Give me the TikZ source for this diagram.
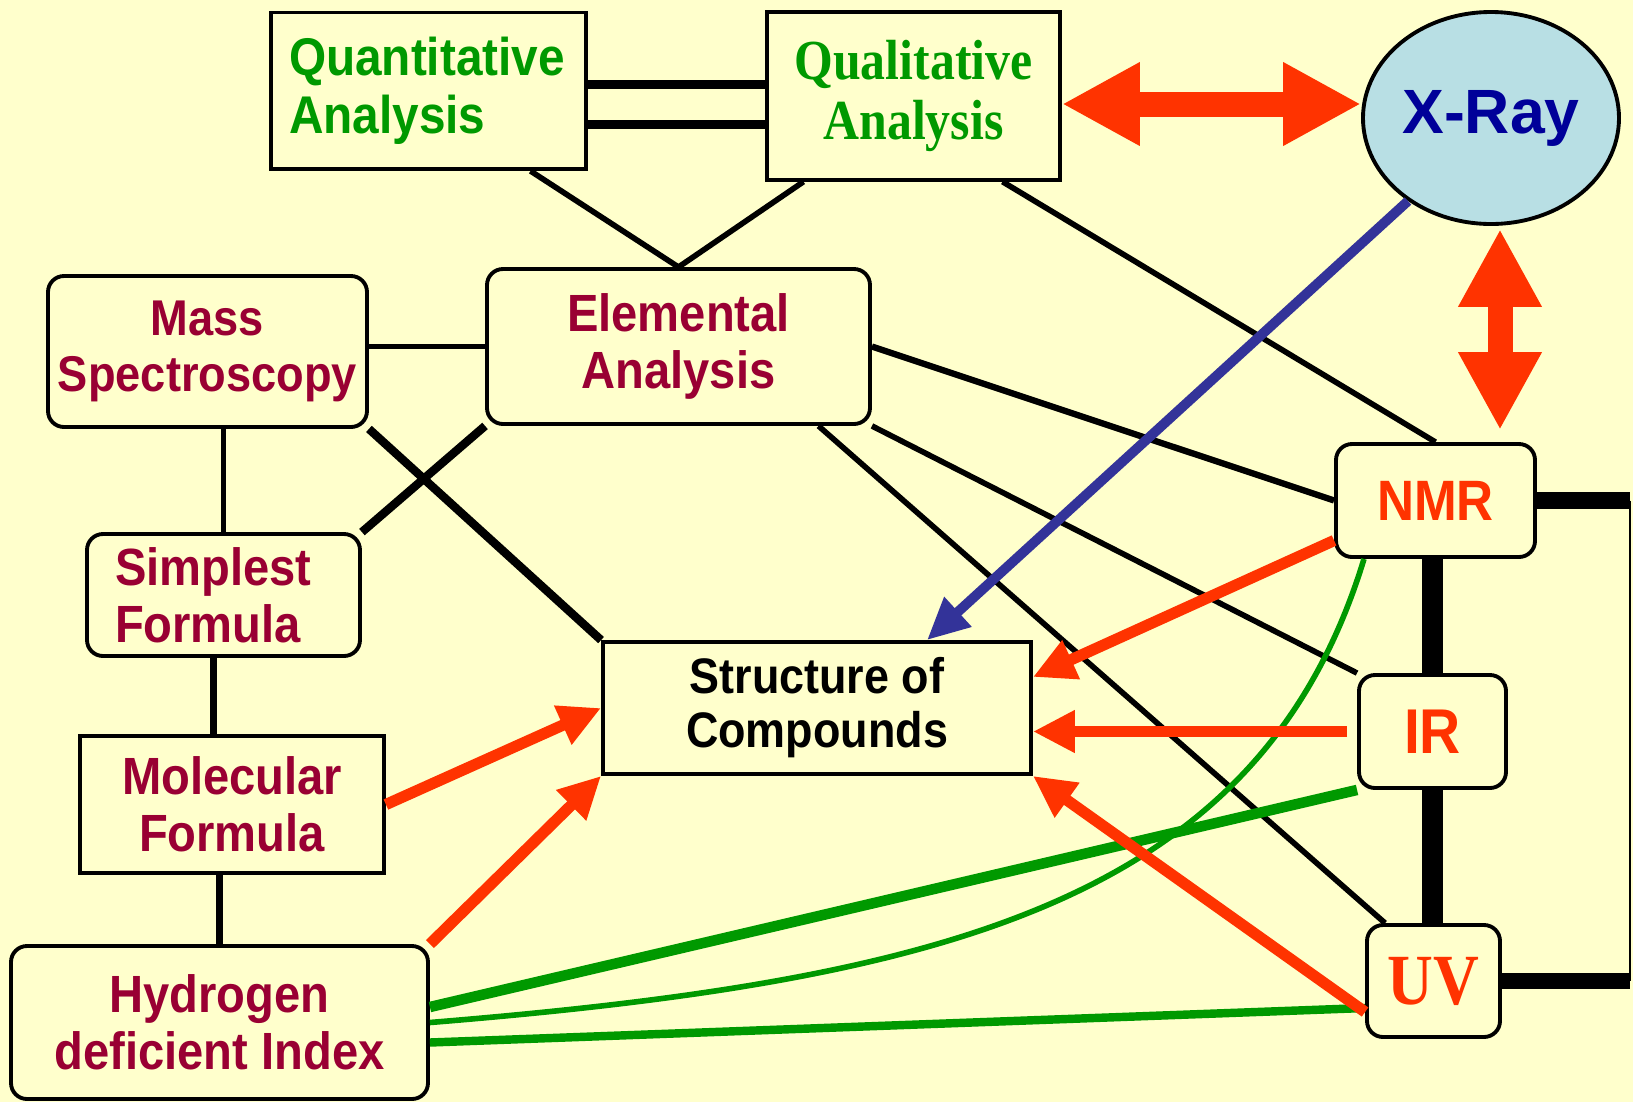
\documentclass[tikz,border=0pt]{standalone}
\usepackage{fontspec}
\setmainfont{Liberation Sans}[FakeStretch=0.9]
\newfontfamily\timesbf{Liberation Serif}[FakeStretch=0.88]
\newfontfamily\widesans{Liberation Sans}
\usetikzlibrary{arrows.meta, shapes.geometric, positioning, calc}

\definecolor{paper}{RGB}{255,255,204}
\definecolor{wine}{RGB}{153,0,51}
\definecolor{leaf}{RGB}{0,153,0}
\definecolor{flame}{RGB}{255,51,0}
\definecolor{xfill}{RGB}{184,223,228}
\definecolor{xblue}{RGB}{0,0,153}
\definecolor{ray}{RGB}{51,51,153}

\tikzset{
  box/.style={draw, line width=1.1pt, fill=paper, inner sep=0.05cm, align=center},
  rbox/.style={box, rounded corners=0.16cm},
  redtext/.style={text=wine, font=\bfseries\fontsize{14.9}{16.2}\selectfont},
  link/.style={line width=1.6pt},
  redarrow/.style={draw=flame, line width=3.2pt, -{Triangle[length=0.42cm, width=0.4cm]}},
  bigarrow/.style={draw=flame, line width=0.25cm, {Triangle[length=0.78cm, width=0.78cm]}-{Triangle[length=0.78cm, width=0.78cm]}},
  grnline/.style={draw=leaf}
}

\begin{document}
\begin{tikzpicture}
\useasboundingbox (0,0) rectangle (16.33,-11.02);
\fill[paper] (0,0) rectangle (16.33,-11.02);

% Analysis boxes at the top
\node[box, text width=2.79cm, inner xsep=0.18cm, align=left, minimum height=1.565cm, text=leaf,
  font=\bfseries\fontsize{15.1}{16.5}\selectfont] (quant) at (4.285,-0.908) {Quantitative\\Analysis};
\node[box, minimum width=2.93cm, minimum height=1.675cm, text=leaf,
  font=\timesbf\bfseries\fontsize{16.1}{17}\selectfont] (qual) at (9.135,-0.96) {Qualitative\\Analysis};

% X-Ray
\node[ellipse, draw, line width=1.1pt, fill=xfill, minimum width=2.56cm, minimum height=2.12cm, inner sep=0pt,
  text=xblue, font=\widesans\bfseries\fontsize{17.8}{20}\selectfont] (xray) at (14.91,-1.18) {X-Ray};

% Left column
\node[rbox, redtext, minimum width=3.83cm, minimum height=1.55cm] (elem) at (6.785,-3.465) {Elemental\\Analysis};
\node[rbox, redtext, font=\bfseries\fontsize{14.3}{15.7}\selectfont, minimum width=3.19cm, minimum height=1.51cm] (mass) at (2.075,-3.515) {Mass\\Spectroscopy};
\node[rbox, redtext, text width=2.17cm, inner xsep=0.28cm, align=left, minimum height=1.22cm] (simp) at (2.235,-5.95) {Simplest\\Formula};
\node[box, redtext, minimum width=3.04cm, minimum height=1.37cm] (mol) at (2.32,-8.045) {Molecular\\Formula};
\node[rbox, redtext, minimum width=4.17cm, minimum height=1.53cm] (hyd) at (2.195,-10.225) {Hydrogen\\deficient Index};

% Structure
\node[box, font=\bfseries\fontsize{14.2}{15.4}\selectfont, minimum width=4.28cm, minimum height=1.32cm] (struct) at (8.17,-7.08) {Structure of\\Compounds};

% Spectroscopy
\node[rbox, text=flame, font=\bfseries\fontsize{16.2}{18}\selectfont, minimum width=1.99cm, minimum height=1.13cm] (nmr) at (14.355,-5.005) {NMR};
\node[rbox, text=flame, font=\bfseries\fontsize{18}{20}\selectfont, minimum width=1.47cm, minimum height=1.13cm] (ir) at (14.325,-7.315) {IR};
\node[rbox, text=flame, font=\timesbf\bfseries\fontsize{20.5}{22}\selectfont, minimum width=1.33cm, minimum height=1.12cm] (uv) at (14.335,-9.81) {UV};

% Black links
\draw[line width=2.5pt] ([yshift=0.06cm]quant.east) -- ([yshift=0.06cm]quant.east -| qual.west);
\draw[line width=2.5pt] ([yshift=-0.34cm]quant.east) -- ([yshift=-0.34cm]quant.east -| qual.west);
\draw[link] ([xshift=1.02cm]quant.south) -- (elem.north);
\draw[link] ([xshift=-1.1cm]qual.south) -- (elem.north);
\draw[link] ([xshift=0.89cm]qual.south) -- (nmr.north);
\draw[link] (mass.east |- elem.west) -- (elem.west);
\draw[line width=1.3pt] (simp.north) -- (simp.north |- mass.south);
\draw[line width=2.4pt] (simp.north east) -- (elem.south west);
\draw[line width=2.4pt] (mass.south east) -- (struct.north west);
\draw[line width=2pt] ([xshift=-0.1cm]simp.south) -- ([xshift=-0.1cm]simp.south |- mol.north);
\draw[line width=2pt] (hyd.north) -- (hyd.north |- mol.south);
\draw[line width=1.8pt] (elem.east) -- (nmr.west);
\draw[link] (elem.south east) -- (ir.north west);
\draw[link] ([xshift=1.4cm]elem.south) -- ([xshift=0.2cm]uv.north west);

% NMR, IR, UV chain
\draw[line width=6.2pt] (ir.north |- nmr.south) -- (ir.north);
\draw[line width=6.2pt] (ir.south) -- (ir.south |- uv.north);
\coordinate (edge) at (16.3,0);
\draw[line width=4.6pt] (nmr.east) -- (nmr.east -| edge);
\draw[line width=4.6pt] (uv.east) -- (uv.east -| edge);
\draw[line width=0.7pt] (nmr.east -| edge) -- (uv.east -| edge);

% Green links
\draw[grnline, line width=3pt] (ir.south west) -- ([yshift=0.155cm]hyd.east);
\draw[grnline, line width=1.6pt] ([xshift=-0.715cm]nmr.south) .. controls (12.6,-9.0) and (9.5,-9.8) .. (hyd.east);
\draw[grnline, line width=2.4pt] ([yshift=-0.27cm]uv.west) -- ([yshift=-0.2cm]hyd.east);

% Arrows into the structure
\draw[redarrow] (mol.east) -- (struct.west);
\draw[redarrow] (hyd.north east) -- (struct.south west);
\draw[redarrow] ([yshift=-0.4cm]nmr.west) -- ([yshift=0.31cm]struct.east);
\draw[redarrow] ([xshift=-0.1cm]ir.west) -- (ir.west -| struct.east);
\draw[redarrow] ([yshift=-0.31cm]uv.west) -- (struct.south east);
\draw[draw=ray, line width=2.8pt, -{Triangle[length=0.42cm, width=0.38cm]}] (xray.-135) -- ([xshift=1.1cm]struct.north);

% X-Ray arrows
\draw[bigarrow] ([yshift=-0.08cm]qual.east) -- ([yshift=-0.08cm]qual.east -| xray.west);
\draw[bigarrow] ([xshift=0.09cm,yshift=-0.03cm]xray.south) -- ([xshift=0.09cm,yshift=0.12cm]xray.south |- nmr.north);
\end{tikzpicture}
\end{document}
